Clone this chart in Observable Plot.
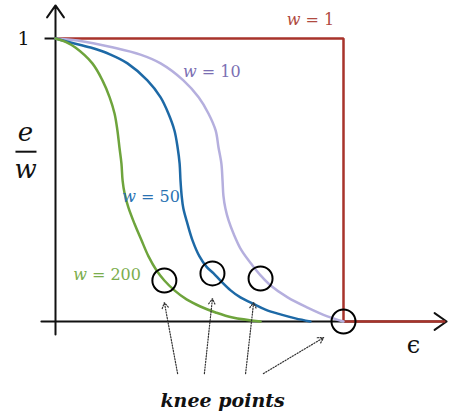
<!DOCTYPE html>
<html>
<head>
<meta charset="utf-8">
<script src="https://cdn.jsdelivr.net/npm/d3@7"></script>
<script src="https://cdn.jsdelivr.net/npm/@observablehq/plot@0.6"></script>
<style>
  html, body { margin: 0; padding: 0; background: #fff; }
  #chart svg { display: block; }
</style>
</head>
<body>
<div id="chart"></div>
<script>
// e/w versus epsilon (red step at epsilon = 1)
const eps200 = [0, 0.035, 0.069, 0.128, 0.163, 0.188, 0.205, 0.215, 0.222, 0.229, 0.233, 0.240, 0.253, 0.274, 0.299, 0.323, 0.351, 0.378, 0.413, 0.455, 0.503, 0.556, 0.615, 0.712];
const ew200  = [1, 0.988, 0.968, 0.912, 0.852, 0.792, 0.735, 0.675, 0.615, 0.558, 0.498, 0.452, 0.403, 0.346, 0.286, 0.230, 0.180, 0.145, 0.110, 0.078, 0.053, 0.032, 0.014, 0];

const eps50 = [0, 0.052, 0.122, 0.191, 0.250, 0.319, 0.365, 0.392, 0.413, 0.424, 0.431, 0.434, 0.438, 0.444, 0.458, 0.476, 0.500, 0.524, 0.549, 0.576, 0.608, 0.642, 0.684, 0.729, 0.781, 0.833, 0.885];
const ew50  = [1, 0.986, 0.968, 0.943, 0.912, 0.852, 0.792, 0.735, 0.675, 0.615, 0.558, 0.498, 0.445, 0.399, 0.346, 0.286, 0.230, 0.194, 0.170, 0.141, 0.110, 0.085, 0.064, 0.042, 0.025, 0.011, 0];

const eps10 = [0, 0.076, 0.201, 0.295, 0.365, 0.444, 0.497, 0.531, 0.556, 0.566, 0.576, 0.580, 0.583, 0.590, 0.601, 0.618, 0.646, 0.684, 0.712, 0.747, 0.806, 0.875, 0.944, 1.0];
const ew10  = [1, 0.993, 0.968, 0.943, 0.912, 0.852, 0.792, 0.735, 0.675, 0.615, 0.558, 0.498, 0.445, 0.399, 0.357, 0.311, 0.251, 0.198, 0.163, 0.127, 0.085, 0.049, 0.018, 0];

const eps1 = [0, 1, 1, 1.35];
const ew1  = [1, 1, 0, 0];

// knee points
const kneeEps = [0.378, 0.545, 0.712, 1.0];
const kneeEw  = [0.145, 0.170, 0.152, 0];

// label texts
const seriesNames = ["w = 1", "w = 10", "w = 50", "w = 200"];
const yTickLabel = "1";
const xLabel = "\u03F5";
const caption = "knee points";

const colors = {
  red: "#a8332b", redText: "#b04a40",
  purple: "#b5afde", purpleText: "#7b6fb3",
  blue: "#1d69a6", blueText: "#2a72b2",
  green: "#6ea43c", greenText: "#7bad4c"
};

const zip = (xs, ys) => xs.map((x, i) => ({x, y: ys[i]}));
const c200 = zip(eps200, ew200);
const c50 = zip(eps50, ew50);
const c10 = zip(eps10, ew10);
const c1 = zip(eps1, ew1);
const knees = zip(kneeEps, kneeEw);

const labels = [
  {text: seriesNames[0], x: 0.885, y: 1.067, fill: colors.redText},
  {text: seriesNames[1], x: 0.543, y: 0.883, fill: colors.purpleText},
  {text: seriesNames[2], x: 0.332, y: 0.442, fill: colors.blueText},
  {text: seriesNames[3], x: 0.179, y: 0.166, fill: colors.greenText}
];

const pointers = [
  {x1: 0.424, y1: -0.184, x2: 0.378, y2: 0.067},
  {x1: 0.517, y1: -0.184, x2: 0.545, y2: 0.081},
  {x1: 0.660, y1: -0.184, x2: 0.688, y2: 0.067},
  {x1: 0.722, y1: -0.184, x2: 0.931, y2: -0.057}
];

const serif = "DejaVu Serif";

const chart = Plot.plot({
  width: 449,
  height: 415,
  marginLeft: 55,
  marginRight: 0,
  marginTop: 38,
  marginBottom: 94,
  x: {domain: [0, 394 / 288], axis: null},
  y: {domain: [0, 1], axis: null},
  style: {background: "#fff", fontFamily: serif},
  marks: [
    // axes with arrow heads
    Plot.arrow([{x1: -0.049, y1: 0, x2: 1.358, y2: 0}], {x1: "x1", y1: "y1", x2: "x2", y2: "y2", stroke: "#111", strokeWidth: 2, headLength: 11, headAngle: 70}),
    Plot.arrow([{x1: 0, y1: -0.046, x2: 0, y2: 1.117}], {x1: "x1", y1: "y1", x2: "x2", y2: "y2", stroke: "#111", strokeWidth: 2, headLength: 11, headAngle: 70}),
    Plot.link([{x1: -0.038, x2: 0, y: 1}], {x1: "x1", x2: "x2", y1: "y", y2: "y", stroke: "#111", strokeWidth: 2}),
    // curves
    Plot.line(c1, {x: "x", y: "y", stroke: colors.red, strokeWidth: 2.5, strokeLinejoin: "miter"}),
    Plot.line(c10, {x: "x", y: "y", stroke: colors.purple, strokeWidth: 2.5, curve: "catmull-rom"}),
    Plot.line(c50, {x: "x", y: "y", stroke: colors.blue, strokeWidth: 2.5, curve: "catmull-rom"}),
    Plot.line(c200, {x: "x", y: "y", stroke: colors.green, strokeWidth: 2.5, curve: "catmull-rom"}),
    // knee circles
    Plot.dot(knees, {x: "x", y: "y", r: 12, stroke: "#000", strokeWidth: 2, fill: "none"}),
    // dotted pointers
    Plot.arrow(pointers, {x1: "x1", y1: "y1", x2: "x2", y2: "y2", stroke: "#333", strokeWidth: 1.2, strokeDasharray: "1.2,1.6", headLength: 8, headAngle: 60}),
    // series labels
    Plot.text(labels, {x: "x", y: "y", text: "text", fill: "fill", fontSize: 16, fontFamily: serif}),
    // y tick label
    Plot.text([{x: -0.111, y: 1}], {x: "x", y: "y", text: () => yTickLabel, fontSize: 19, fontFamily: serif, fill: "#111"}),
    // y axis label e / w
    Plot.text([{x: -0.104, y: 0.667}], {x: "x", y: "y", text: () => "e", fontSize: 26, fontStyle: "italic", fontFamily: serif, fill: "#111"}),
    Plot.link([{x1: -0.139, x2: -0.066, y: 0.600}], {x1: "x1", x2: "x2", y1: "y", y2: "y", stroke: "#111", strokeWidth: 2}),
    Plot.text([{x: -0.104, y: 0.538}], {x: "x", y: "y", text: () => "w", fontSize: 26, fontStyle: "italic", fontFamily: serif, fill: "#111"}),
    // x axis label
    Plot.text([{x: 1.243, y: -0.085}], {x: "x", y: "y", text: () => xLabel, fontSize: 24, fontFamily: serif, fill: "#111"}),
    // caption
    Plot.text([{x: 0.580, y: -0.282}], {x: "x", y: "y", text: () => caption, fontSize: 19, fontWeight: "bold", fontStyle: "italic", fontFamily: serif, fill: "#111"})
  ]
});

// italicise the variable w in the series labels
d3.select(chart).selectAll("text").each(function () {
  const t = this.textContent;
  if (/^w = /.test(t)) {
    const sel = d3.select(this);
    sel.text(null);
    sel.append("tspan").attr("font-style", "italic").text("w");
    sel.append("tspan").text(t.slice(1));
  }
});

document.getElementById("chart").appendChild(chart);
</script>
</body>
</html>
